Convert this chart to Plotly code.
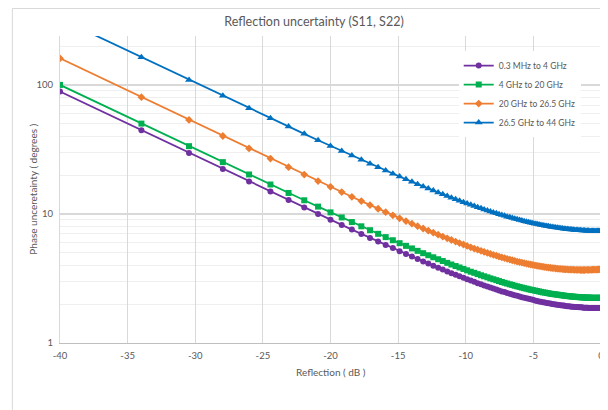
import plotly.graph_objects as go

# x axis: reflection in dB (points at |rho| = 0.01 ... 1.00)
reflection_db = [
    -40.00, -33.98, -30.46, -27.96, -26.02, -24.44, -23.10, -21.94, -20.92, -20.00,
    -19.17, -18.42, -17.72, -17.08, -16.48, -15.92, -15.39, -14.89, -14.42, -13.98,
    -13.56, -13.15, -12.77, -12.40, -12.04, -11.70, -11.37, -11.06, -10.75, -10.46,
    -10.17, -9.90, -9.63, -9.37, -9.12, -8.87, -8.64, -8.40, -8.18, -7.96,
    -7.74, -7.54, -7.33, -7.13, -6.94, -6.74, -6.56, -6.38, -6.20, -6.02,
    -5.85, -5.68, -5.51, -5.35, -5.19, -5.04, -4.88, -4.73, -4.58, -4.44,
    -4.29, -4.15, -4.01, -3.88, -3.74, -3.61, -3.48, -3.35, -3.22, -3.10,
    -2.97, -2.85, -2.73, -2.62, -2.50, -2.38, -2.27, -2.16, -2.05, -1.94,
    -1.83, -1.72, -1.62, -1.51, -1.41, -1.31, -1.21, -1.11, -1.01, -0.92,
    -0.82, -0.72, -0.63, -0.54, -0.45, -0.35, -0.26, -0.18, -0.09, 0.00]

# phase uncertainty (degrees)
band_03mhz_4ghz = [
    89.0, 44.56, 29.73, 22.33, 17.89, 14.93, 12.82, 11.24, 10.01, 9.03,
    8.23, 7.57, 7.01, 6.53, 6.11, 5.75, 5.44, 5.15, 4.90, 4.68,
    4.48, 4.29, 4.13, 3.97, 3.84, 3.71, 3.59, 3.48, 3.38, 3.29,
    3.20, 3.12, 3.05, 2.98, 2.91, 2.85, 2.79, 2.74, 2.69, 2.64,
    2.60, 2.55, 2.51, 2.48, 2.44, 2.41, 2.38, 2.35, 2.32, 2.29,
    2.26, 2.24, 2.22, 2.20, 2.18, 2.16, 2.14, 2.12, 2.10, 2.09,
    2.07, 2.06, 2.04, 2.03, 2.02, 2.01, 2.00, 1.99, 1.98, 1.97,
    1.96, 1.95, 1.95, 1.94, 1.93, 1.93, 1.92, 1.91, 1.91, 1.90,
    1.90, 1.90, 1.89, 1.89, 1.89, 1.88, 1.88, 1.88, 1.88, 1.87,
    1.87, 1.87, 1.87, 1.87, 1.87, 1.87, 1.87, 1.87, 1.87, 1.87]

band_4ghz_20ghz = [
    100.2, 50.22, 33.56, 25.24, 20.25, 16.93, 14.56, 12.78, 11.41, 10.30,
    9.41, 8.66, 8.03, 7.49, 7.02, 6.62, 6.26, 5.94, 5.66, 5.41,
    5.18, 4.97, 4.79, 4.62, 4.46, 4.32, 4.18, 4.06, 3.95, 3.85,
    3.75, 3.66, 3.57, 3.50, 3.42, 3.35, 3.29, 3.23, 3.17, 3.12,
    3.07, 3.02, 2.97, 2.93, 2.89, 2.85, 2.82, 2.78, 2.75, 2.72,
    2.69, 2.66, 2.64, 2.61, 2.59, 2.57, 2.55, 2.53, 2.51, 2.49,
    2.47, 2.46, 2.44, 2.43, 2.41, 2.40, 2.39, 2.38, 2.37, 2.36,
    2.35, 2.34, 2.33, 2.32, 2.31, 2.31, 2.30, 2.29, 2.29, 2.28,
    2.28, 2.27, 2.27, 2.26, 2.26, 2.26, 2.25, 2.25, 2.25, 2.25,
    2.25, 2.24, 2.24, 2.24, 2.24, 2.24, 2.24, 2.24, 2.24, 2.24]

band_20ghz_265ghz = [
    160.9, 80.46, 53.65, 40.26, 32.23, 26.89, 23.07, 20.22, 18.01, 16.24,
    14.80, 13.60, 12.59, 11.73, 10.98, 10.33, 9.77, 9.26, 8.81, 8.41,
    8.05, 7.72, 7.43, 7.16, 6.91, 6.68, 6.48, 6.29, 6.11, 5.95,
    5.80, 5.66, 5.52, 5.40, 5.29, 5.18, 5.09, 4.99, 4.91, 4.83,
    4.75, 4.68, 4.61, 4.55, 4.49, 4.43, 4.38, 4.33, 4.28, 4.24,
    4.20, 4.16, 4.12, 4.09, 4.06, 4.03, 4.00, 3.97, 3.95, 3.92,
    3.90, 3.88, 3.86, 3.84, 3.83, 3.81, 3.80, 3.78, 3.77, 3.76,
    3.75, 3.74, 3.73, 3.72, 3.72, 3.71, 3.71, 3.70, 3.70, 3.69,
    3.69, 3.69, 3.69, 3.68, 3.68, 3.68, 3.68, 3.69, 3.69, 3.69,
    3.69, 3.69, 3.70, 3.70, 3.70, 3.71, 3.71, 3.72, 3.72, 3.73]

band_265ghz_44ghz = [
    326.8, 163.9, 109.6, 82.44, 66.18, 55.34, 47.61, 41.83, 37.33, 33.74,
    30.81, 28.37, 26.32, 24.56, 23.04, 21.72, 20.55, 19.52, 18.60, 17.77,
    17.03, 16.36, 15.75, 15.19, 14.68, 14.21, 13.78, 13.38, 13.01, 12.67,
    12.35, 12.06, 11.78, 11.52, 11.28, 11.06, 10.85, 10.65, 10.46, 10.28,
    10.12, 9.96, 9.81, 9.68, 9.54, 9.42, 9.30, 9.19, 9.09, 8.99,
    8.89, 8.80, 8.72, 8.63, 8.56, 8.49, 8.42, 8.35, 8.29, 8.23,
    8.17, 8.12, 8.07, 8.02, 7.98, 7.93, 7.89, 7.86, 7.82, 7.78,
    7.75, 7.72, 7.69, 7.66, 7.64, 7.62, 7.59, 7.57, 7.55, 7.53,
    7.52, 7.50, 7.49, 7.47, 7.46, 7.45, 7.44, 7.43, 7.42, 7.41,
    7.40, 7.40, 7.39, 7.39, 7.39, 7.38, 7.38, 7.38, 7.38, 7.38]

series_names = ["0.3 MHz to 4 GHz", "4 GHz to 20 GHz",
                "20 GHz to 26.5 GHz", "26.5 GHz to 44 GHz"]
series_values = [band_03mhz_4ghz, band_4ghz_20ghz, band_20ghz_265ghz, band_265ghz_44ghz]
colors = ["#7030A0", "#00B050", "#ED7D31", "#0070C0"]
symbols = ["circle", "square", "diamond", "triangle-up"]
sizes = [6, 6, 6, 7]

x_ticks = [-40, -35, -30, -25, -20, -15, -10, -5, 0]
y_ticks = [1, 10, 100]

FONT = "Lato"
GREY = "#595959"

fig = go.Figure()
for name, vals, c, s, sz in zip(series_names, series_values, colors, symbols, sizes):
    fig.add_trace(go.Scatter(
        x=reflection_db, y=vals, name=name, mode="lines+markers",
        line=dict(color=c, width=1.8),
        marker=dict(color=c, symbol=s, size=sz),
    ))

# page body has an 8px margin, so the figure is 8px smaller than the window
fig.update_layout(
    width=600, height=402,
    margin=dict(l=52, r=4, t=28, b=67),
    paper_bgcolor="white", plot_bgcolor="white",
    font=dict(family=FONT, color=GREY, size=10),
    title=dict(text="Reflection uncertainty (S11, S22)", x=0.51, xanchor="center",
               y=0.965, yanchor="middle", font=dict(size=12.5, color=GREY, family=FONT)),
    legend=dict(x=0.737, y=0.951, xanchor="left", yanchor="top",
                bgcolor="white", font=dict(size=8.5, color=GREY, family=FONT),
                itemwidth=30, tracegroupgap=0),
    showlegend=True,
)

fig.update_xaxes(
    range=[-40, 0], tickvals=x_ticks, ticktext=[str(v) for v in x_ticks],
    showgrid=True, gridcolor="#D9D9D9", gridwidth=1,
    showline=True, linecolor="#BFBFBF", linewidth=1,
    zeroline=False, ticks="", ticklabelstandoff=4,
    tickfont=dict(size=9.5, color=GREY),
)
fig.update_yaxes(
    type="log", range=[0, 2.38], tickvals=y_ticks, ticktext=[str(v) for v in y_ticks],
    showgrid=True, gridcolor="#D9D9D9", gridwidth=2,
    minor=dict(dtick="D1", showgrid=True, gridcolor="#EFEFEF", gridwidth=1, ticks=""),
    showline=True, linecolor="#D9D9D9", linewidth=1,
    zeroline=False, ticks="", ticklabelstandoff=4,
    tickfont=dict(size=9.5, color=GREY),
)

# axis titles
fig.add_annotation(text="Phase unceretainty ( degrees )", textangle=-90,
                   xref="paper", yref="paper", x=-0.0515, y=0.5,
                   xanchor="center", yanchor="middle", showarrow=False,
                   font=dict(size=10, color=GREY, family=FONT))
fig.add_annotation(text="Reflection ( dB )", xref="paper", yref="paper",
                   x=0.5, y=-0.0945, xanchor="center", yanchor="middle",
                   showarrow=False, font=dict(size=10, color=GREY, family=FONT))

# chart area border (cropped excel frame)
fig.add_shape(type="line", xref="paper", yref="paper", x0=-0.088, x1=-0.088,
              y0=1.09, y1=-0.22, line=dict(color="#D9D9D9", width=1))
fig.add_shape(type="line", xref="paper", yref="paper", x0=-0.088, x1=1.01,
              y0=1.0896, y1=1.0896, line=dict(color="#D9D9D9", width=1))

fig.write_html("out.html")
